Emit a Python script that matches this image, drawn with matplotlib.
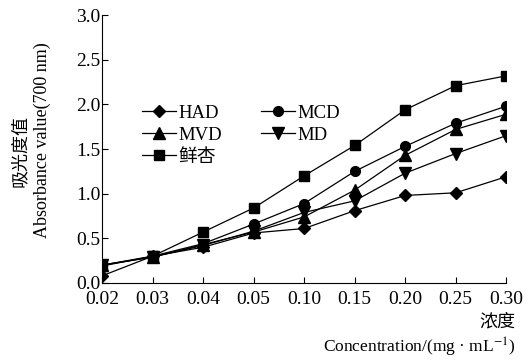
import matplotlib

matplotlib.use("Agg")

import matplotlib.pyplot as plt
import numpy as np

plt.rcParams["font.family"] = ["Liberation Serif", "Noto Sans CJK SC"]
plt.rcParams["mathtext.fontset"] = "stix"

concentrations = ["0.02", "0.03", "0.04", "0.05", "0.10", "0.15", "0.20", "0.25", "0.30"]
had = [0.08, 0.30, 0.40, 0.56, 0.61, 0.81, 0.98, 1.01, 1.19]
mcd = [0.20, 0.30, 0.44, 0.66, 0.89, 1.25, 1.53, 1.79, 1.98]
mvd = [0.20, 0.29, 0.43, 0.57, 0.74, 1.04, 1.43, 1.72, 1.89]
md = [0.20, 0.29, 0.42, 0.58, 0.79, 0.92, 1.23, 1.45, 1.65]
apricot = [0.19, 0.30, 0.57, 0.84, 1.20, 1.54, 1.94, 2.21, 2.32]

series = [
    ("HAD", had, "D", 6),
    ("MCD", mcd, "o", 7),
    ("MVD", mvd, "^", 8),
    ("MD", md, "v", 8),
    ("鲜杏", apricot, "s", 7),
]

fig = plt.figure(figsize=(5.29, 3.6), dpi=100)
ax = fig.add_axes([0.193, 0.214, 0.764, 0.744])
x = np.arange(len(concentrations))
lines = {}
for name, vals, mk, ms in series:
    (ln,) = ax.plot(x, vals, color="black", lw=0.9, marker=mk, ms=ms, label=name)
    lines[name] = ln

ax.set_xlim(0, len(concentrations) - 1)
ax.set_ylim(0, 3.0)
ax.set_xticks(x)
ax.set_xticklabels(concentrations)
ax.set_yticks(np.arange(0, 3.01, 0.5))
ax.set_yticklabels([f"{v:.1f}" for v in np.arange(0, 3.01, 0.5)])
ax.tick_params(direction="in", length=4, width=0.8, labelsize=14)
ax.tick_params(axis="x", pad=6)
ax.tick_params(axis="y", pad=1)
for s in ["top", "right"]:
    ax.spines[s].set_visible(False)

# row-major legend order: HAD MCD / MVD MD / 鲜杏
order = ["HAD", "MVD", "鲜杏", "MCD", "MD"]
ax.legend([lines[n] for n in order], order, loc="upper left",
          bbox_to_anchor=(0.075, 0.70), ncol=2, frameon=False, borderpad=0,
          fontsize=13.5, handlelength=1.8, handletextpad=0.15, columnspacing=2.1,
          labelspacing=0.25)

fig.text(0.038, 0.58, "吸光度值", rotation=90, ha="center", va="center", fontsize=13)
fig.text(0.08, 0.61, "Absorbance value(700 nm)", rotation=90, ha="center", va="center", fontsize=13)
fig.text(0.975, 0.106, "浓度", ha="right", va="center", fontsize=13)
fig.text(0.975, 0.036, "Concentration/(mg · mL$^{-1}$)", ha="right", va="center", fontsize=12.5)

fig.savefig("out.png", dpi=100)
